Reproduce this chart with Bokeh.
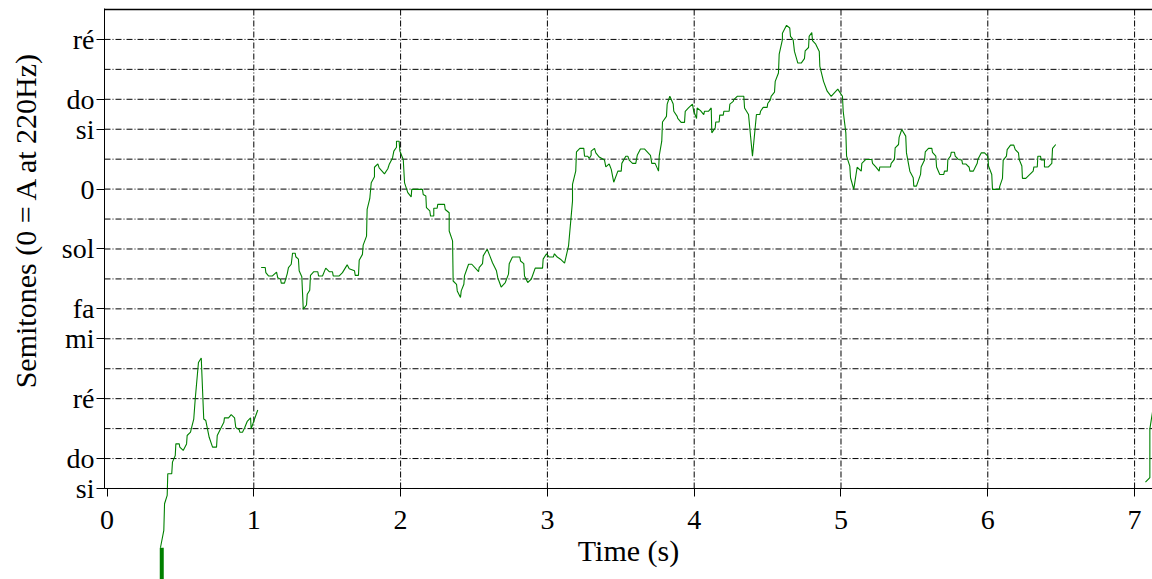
import math
from bokeh.plotting import figure
from bokeh.models import FixedTicker, Range1d, Label, LinearAxis
from bokeh.embed import file_html
from bokeh.resources import INLINE

# ---- data: time (s), pitch in semitones re A 220 Hz ----
contour_a = [
    (0.364, -11.98), (0.387, -11.40), (0.392, -10.51), (0.410, -10.23), (0.414, -9.51),
    (0.441, -9.51), (0.446, -9.12), (0.465, -8.90), (0.469, -8.51), (0.492, -8.51),
    (0.496, -8.62), (0.519, -8.73), (0.542, -8.51), (0.546, -8.23), (0.569, -8.12),
    (0.574, -8.01), (0.591, -7.68), (0.601, -7.01), (0.623, -5.79), (0.642, -5.64),
    (0.659, -7.68), (0.673, -7.73), (0.696, -8.29), (0.719, -8.62), (0.746, -8.62),
    (0.751, -8.23), (0.773, -8.01), (0.796, -7.79), (0.800, -7.64), (0.828, -7.64),
    (0.846, -7.53), (0.869, -7.64), (0.877, -7.96), (0.901, -8.04), (0.905, -8.12),
    (0.923, -8.12), (0.937, -7.98), (0.955, -7.76), (0.978, -7.64), (0.982, -8.01),
    (1.005, -7.68), (1.027, -7.38),
]

contour_b = [
    (1.050, -2.62), (1.078, -2.62), (1.082, -2.79), (1.100, -2.90), (1.127, -2.90),
    (1.155, -2.77), (1.163, -2.96), (1.182, -3.01), (1.187, -3.14), (1.209, -3.14),
    (1.228, -2.82), (1.236, -2.62), (1.255, -2.51), (1.264, -2.14), (1.282, -2.14),
    (1.286, -2.26), (1.304, -2.34), (1.309, -2.73), (1.327, -2.93), (1.337, -4.01),
    (1.359, -3.87), (1.364, -3.51), (1.381, -3.38), (1.386, -2.88), (1.409, -2.76),
    (1.436, -2.76), (1.441, -2.90), (1.468, -2.90), (1.490, -2.64), (1.514, -2.76),
    (1.536, -2.76), (1.541, -2.90), (1.582, -2.90), (1.604, -2.79), (1.636, -2.53),
    (1.650, -2.66), (1.686, -2.73), (1.691, -2.88), (1.713, -2.88), (1.718, -2.38),
    (1.740, -2.18), (1.745, -1.87), (1.768, -1.57), (1.772, -0.68), (1.790, -0.32),
    (1.800, 0.21), (1.822, 0.41), (1.822, 0.73), (1.845, 0.84), (1.854, 0.71),
    (1.890, 0.51), (1.913, 0.68), (1.922, 0.82), (1.945, 1.04), (1.954, 1.27),
    (1.972, 1.40), (1.972, 1.60), (1.990, 1.60), (1.995, 1.27), (2.018, 0.99),
    (2.027, 0.21), (2.049, -0.12), (2.072, -0.26), (2.076, -0.01), (2.149, -0.01),
    (2.154, -0.18), (2.172, -0.23), (2.176, -0.62), (2.199, -0.73), (2.204, -0.90),
    (2.226, -0.90), (2.226, -0.64), (2.249, -0.64), (2.253, -0.51), (2.299, -0.51),
    (2.304, -0.68), (2.331, -0.79), (2.331, -1.40), (2.354, -1.73), (2.358, -3.07),
    (2.381, -3.18), (2.386, -3.40), (2.408, -3.62), (2.413, -3.40), (2.431, -3.18),
    (2.435, -2.90), (2.463, -2.51), (2.485, -2.51), (2.531, -2.76), (2.535, -2.62),
    (2.558, -2.49), (2.563, -2.23), (2.590, -2.01), (2.608, -2.23), (2.626, -2.46),
    (2.653, -2.73), (2.662, -2.96), (2.685, -3.27), (2.713, -3.12), (2.735, -2.84),
    (2.740, -2.49), (2.762, -2.27), (2.812, -2.27), (2.817, -2.40), (2.839, -2.49),
    (2.844, -2.90), (2.866, -3.12), (2.890, -3.01), (2.917, -2.64), (2.967, -2.64),
    (2.971, -2.34), (2.994, -2.16), (3.012, -2.27), (3.040, -2.27), (3.048, -2.16),
    (3.067, -2.27), (3.089, -2.34), (3.117, -2.47), (3.144, -1.90), (3.171, -0.40),
    (3.171, 0.16), (3.193, 0.60), (3.198, 1.24), (3.221, 1.36), (3.248, 1.36),
    (3.253, 1.10), (3.275, 1.10), (3.285, 1.02), (3.298, 1.13), (3.298, 1.27),
    (3.321, 1.36), (3.330, 1.21), (3.353, 1.07), (3.389, 0.97), (3.398, 0.74),
    (3.421, 0.84), (3.435, 0.66), (3.452, 0.23), (3.480, 0.60), (3.503, 0.60),
    (3.507, 0.86), (3.534, 1.10), (3.548, 1.10), (3.557, 0.97), (3.580, 0.86),
    (3.602, 0.86), (3.612, 1.13), (3.634, 1.34), (3.661, 1.34), (3.702, 1.13),
    (3.711, 0.86), (3.734, 0.86), (3.757, 0.60), (3.762, 1.12), (3.779, 1.60),
    (3.784, 2.24), (3.811, 2.43), (3.816, 2.84), (3.834, 3.10), (3.857, 2.84),
    (3.861, 2.60), (3.884, 2.43), (3.888, 2.36), (3.911, 2.23), (3.934, 2.23),
    (3.939, 2.60), (3.961, 2.71), (3.988, 2.84), (3.997, 2.60), (4.016, 2.36),
    (4.020, 2.71), (4.043, 2.62), (4.065, 2.49), (4.070, 2.60), (4.097, 2.60),
    (4.116, 2.71), (4.120, 1.88), (4.143, 2.04), (4.147, 2.24), (4.170, 2.24),
    (4.174, 2.47), (4.198, 2.47), (4.202, 2.60), (4.238, 2.60), (4.243, 2.84),
    (4.266, 2.93), (4.270, 2.99), (4.293, 3.10), (4.338, 3.10), (4.343, 2.71),
    (4.370, 2.49), (4.397, 1.10), (4.424, 2.49), (4.447, 2.49), (4.452, 2.60),
    (4.470, 2.73), (4.497, 2.73), (4.501, 2.86), (4.520, 2.99), (4.524, 3.10),
    (4.547, 3.24), (4.552, 3.60), (4.574, 3.88), (4.579, 4.51), (4.601, 4.99),
    (4.601, 5.21), (4.629, 5.47), (4.651, 5.38), (4.656, 5.10), (4.674, 4.99),
    (4.683, 4.60), (4.706, 4.21), (4.729, 4.21), (4.751, 4.36), (4.756, 4.62),
    (4.779, 4.73), (4.783, 5.10), (4.801, 5.23), (4.806, 4.96), (4.828, 4.84),
    (4.852, 4.60), (4.856, 4.10), (4.881, 3.60), (4.906, 3.27), (4.933, 3.10),
    (4.978, 3.34), (5.010, 3.10), (5.015, 2.60), (5.033, 1.88), (5.038, 1.10),
    (5.060, 0.77), (5.065, 0.38), (5.087, -0.01), (5.110, 0.73), (5.138, 0.60),
    (5.142, 0.86), (5.169, 0.99), (5.210, 0.99), (5.215, 0.86), (5.237, 0.74),
    (5.260, 0.60), (5.264, 0.74), (5.337, 0.74), (5.342, 0.86), (5.364, 0.99),
    (5.369, 1.38), (5.392, 1.49), (5.396, 1.73), (5.414, 1.99), (5.441, 1.77),
    (5.446, 1.21), (5.469, 0.60), (5.492, 0.38), (5.496, 0.10), (5.514, 0.10),
    (5.542, 0.49), (5.546, 0.74), (5.569, 0.97), (5.574, 1.24), (5.596, 1.36),
    (5.619, 1.36), (5.623, 1.23), (5.646, 1.10), (5.651, 0.74), (5.673, 0.49),
    (5.700, 0.49), (5.705, 0.60), (5.724, 0.60), (5.728, 0.99), (5.746, 1.10),
    (5.751, 1.23), (5.773, 1.23), (5.778, 1.10), (5.800, 0.99), (5.823, 0.97),
    (5.828, 0.84), (5.850, 0.84), (5.873, 0.73), (5.878, 0.60), (5.901, 0.60),
    (5.928, 0.86), (5.932, 0.99), (5.955, 1.21), (5.978, 1.21), (6.000, 1.10),
    (6.005, 0.77), (6.027, 0.49), (6.032, -0.01), (6.078, -0.01), (6.082, 0.10),
    (6.100, 0.36), (6.105, 0.97), (6.127, 1.10), (6.132, 1.32), (6.155, 1.47),
    (6.177, 1.47), (6.187, 1.32), (6.209, 1.21), (6.214, 0.99), (6.232, 0.77),
    (6.236, 0.36), (6.259, 0.36), (6.309, 0.60), (6.314, 0.74), (6.337, 0.74),
    (6.341, 1.10), (6.359, 1.10), (6.364, 0.97), (6.386, 0.97), (6.386, 0.74),
    (6.413, 0.74), (6.436, 0.86), (6.441, 1.36), (6.463, 1.49),
]

contour_c = [(7.074, -9.79), (7.104, -9.64), (7.104, -8.01), (7.127, -7.29), (7.150, -6.90)]

# initial low onset (dense pitch drop shown as a thick stroke)
onset_t = [0.373, 0.373]
onset_v = [-11.98, -13.30]

time_ticks = [0, 1, 2, 3, 4, 5, 6, 7]
note_ticks = [-10, -9, -7, -5, -4, -2, 0, 2, 3, 5]
note_labels = ["si", "do", "ré", "mi", "fa", "sol", "0", "si", "do", "ré"]
semitone_lines = list(range(-10, 7))

FONT = "Liberation Serif"
GREEN = "#008000"
DASH = "6 2 1 2"

# plotting window (the drawing area spans the whole canvas; axes sit at fixed data locations)
t_left, t_right = -0.7255, 7.122
v_bottom, v_top = -13.04, 6.30
t_axis = -0.017            # where the semitone axis is drawn
v_axis = semitone_lines[0]  # where the time axis is drawn
v_frame_top = 6.033

p = figure(width=1152, height=579,
           x_range=Range1d(t_left, t_right), y_range=Range1d(v_bottom, v_top),
           output_backend="svg", toolbar_location=None,
           x_axis_location=None, y_axis_location=None,
           min_border_left=0, min_border_right=0,
           min_border_top=0, min_border_bottom=0)
p.outline_line_color = None
p.background_fill_color = "white"
p.grid.visible = False

# horizontal semitone grid
n_h = len(semitone_lines) - 1
p.segment(x0=[t_axis] * n_h, x1=[t_right] * n_h, y0=semitone_lines[:-1], y1=semitone_lines[:-1],
          line_color="black", line_dash=DASH, line_width=1)
# top border
p.segment(x0=[t_axis], x1=[t_right], y0=[semitone_lines[-1]], y1=[semitone_lines[-1]],
          line_color="black", line_width=1.5)

# vertical time grid (only above the time axis)
vt = time_ticks[1:]
p.segment(x0=vt, x1=vt, y0=[v_axis] * len(vt), y1=[v_frame_top] * len(vt),
          line_color="black", line_dash=DASH, line_width=1)

# semitone axis
ya = LinearAxis(fixed_location=t_axis, ticker=FixedTicker(ticks=note_ticks))
ya.major_label_overrides = {k: v for k, v in zip(note_ticks, note_labels)}
ya.bounds = (v_axis, v_frame_top)
ya.axis_line_color = "black"
ya.major_tick_line_color = "black"
ya.major_tick_out = 8
ya.major_tick_in = 0
ya.minor_tick_line_color = None
ya.major_label_standoff = 2
ya.major_label_text_font = FONT
ya.major_label_text_font_size = "28px"
ya.major_label_text_color = "black"
p.add_layout(ya, "left")

# time axis placed at the bottom grid line
xa = LinearAxis(fixed_location=v_axis, ticker=FixedTicker(ticks=time_ticks),
                axis_label="Time (s)")
xa.bounds = (t_axis, t_right)
xa.axis_line_color = "black"
xa.major_tick_out = 8
xa.major_tick_in = 0
xa.minor_tick_line_color = None
xa.major_label_standoff = 15
xa.major_label_text_font = FONT
xa.major_label_text_font_size = "28px"
xa.major_label_text_color = "black"
xa.axis_label_text_font = FONT
xa.axis_label_text_font_size = "30px"
xa.axis_label_text_font_style = "normal"
xa.axis_label_text_color = "black"
xa.axis_label_standoff = 1
p.add_layout(xa, "below")

# y title
p.add_layout(Label(x=25, y=360, x_units="screen", y_units="screen",
                   text="Semitones (0 = A at 220Hz)", angle=math.pi / 2,
                   text_align="center", text_baseline="middle",
                   text_font=FONT, text_font_size="30px", text_color="black"))

# pitch contour
for seg in (contour_a, contour_b, contour_c):
    ts, vs = zip(*seg)
    p.line(list(ts), list(vs), line_color=GREEN, line_width=1.1)
p.line(onset_t, onset_v, line_color=GREEN, line_width=4)

open("out.html", "w").write(file_html(p, INLINE))
